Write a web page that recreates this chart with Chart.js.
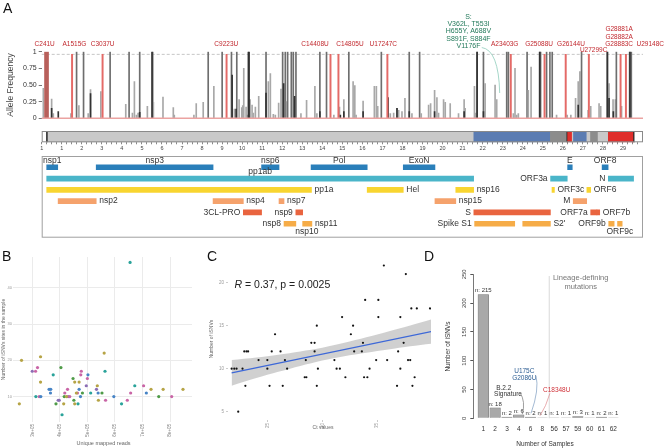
<!DOCTYPE html>
<html>
<head>
<meta charset="utf-8">
<script src="https://cdn.jsdelivr.net/npm/chart.js@4.4.1/dist/chart.umd.min.js"></script>
<style>
html, body { margin: 0; padding: 0; background: #fff; }
#wrap { position: relative; width: 666px; height: 448px; overflow: hidden; font-family: "Liberation Sans", Arial, sans-serif; }
canvas { position: absolute; }
.tag { position: absolute; font-size: 14px; line-height: 14px; color: #111; }
</style>
</head>
<body>
<div id="wrap">
  <canvas id="cA1" width="666" height="125" style="left:0;top:0"></canvas>
  <canvas id="cA2" width="666" height="30" style="left:0;top:125px"></canvas>
  <canvas id="cA3" width="666" height="95" style="left:0;top:150px"></canvas>
  <canvas id="cB" width="200" height="203" style="left:0;top:245px"></canvas>
  <canvas id="cC" width="240" height="203" style="left:195px;top:245px"></canvas>
  <canvas id="cD" width="241" height="203" style="left:425px;top:245px"></canvas>
  <div class="tag" style="left:3px;top:1px">A</div>
  <div class="tag" style="left:2px;top:249px">B</div>
  <div class="tag" style="left:207px;top:249px">C</div>
  <div class="tag" style="left:424px;top:249px">D</div>
</div>
<script>
/* --- panel A: allele frequencies ------------------------------------------ */
const afPos = [81, 496, 579, 1458, 1740, 1856, 2088, 2320, 2436, 2950, 3414, 4194, 4360, 4526, 4625, 4725, 4808, 4890,
    5272, 5537, 5571, 6051, 6566, 6615, 7594, 7710, 8058, 8307, 8589, 9003, 9468, 9617, 9733, 9849, 9982, 10031, 10081,
    10197, 10247, 10396, 10496, 10562, 10661, 10827, 11192, 11308, 11408, 11557, 11656, 11822, 11938, 12021, 12154,
    12220, 12270, 12453, 12552, 12685, 12934, 13215, 13630, 13730, 13879, 14210,
    14576, 14857, 15075, 15323, 15537, 15622, 15686, 16035, 16597, 16697, 16764, 16945, 17393, 17559, 17726, 17810,
    17975, 18123, 18338, 18472, 18855, 18936, 19303, 19403, 19602, 19718, 19800, 20050, 20133, 20381, 20796, 21076,
    21126, 21591, 21656, 21723, 22040, 22123, 22620, 22702, 23200, 23283, 23531, 23614, 23696, 23780, 24217, 24277,
    24416, 24847, 24890, 25189, 25355, 25471, 25687, 26218, 26400, 26636, 26768, 26851, 26934, 27262, 27392, 27808,
    27890, 28223, 28306, 28506, 28621, 28671, 28930, 29333, 29417];
const afFreq = [0.45, 0.29, 0.07, 0.07, 1, 0.19, 1, 0.07, 0.43, 0.40, 1, 0.21, 1, 0.08, 0.55, 0.05, 0.08, 1,
    0.18, 1, 0.24, 0.32, 0.16, 0.05, 0.05, 0.22, 0.24, 1, 0.48, 1, 1, 0.14, 1, 0.28, 0.16, 0.19, 0.75,
    0.17, 0.05, 0.28, 0.20, 0.08, 0.17, 0.33, 1, 0.55, 0.67, 0.06, 0.05, 0.23, 0.44, 1, 1,
    0.25, 1, 1, 1, 1, 0.07, 0.27, 0.48, 0.07, 1, 1,
    0.05, 0.17, 0.28, 1, 0.55, 0.49, 0.05, 0.26, 0.48, 0.48, 0.18, 1, 0.07, 0.08, 0.15, 0.12,
    0.10, 0.30, 1, 0.07, 1, 0.07, 0.20, 0.22, 0.42, 0.31, 0.08, 0.28, 0.24, 0.22, 0.07, 0.28,
    0.15, 0.48, 0.08, 1, 1, 0.52, 0.50, 0.28, 1, 1, 0.07, 0.75, 0.05, 0.07, 1, 0.42,
    0.77, 1, 1, 1, 1, 1, 0.05, 0.05, 0.05, 0.30, 0.55, 0.70, 1, 0.12, 0.18, 0.22,
    0.18, 1, 0.52, 0.28, 0.28, 1, 0.18, 1, 1];
const afDarkPos = [496, 827, 2436, 4890, 5504, 9501, 9700, 10313, 10346, 11192, 12071, 12619, 13879, 14900, 15075,
    16035, 17280, 17726, 18338, 19602, 21076, 21723, 22040, 24847, 26768, 28223, 28306, 28520, 29350];
const afDarkFreq = [0.15, 0.10, 0.37, 0.09, 1, 0.65, 0.14, 1, 1, 0.38, 0.52, 0.33, 0.10, 0.05, 0.10,
    0.10, 0.31, 0.15, 0.10, 0.10, 0.10, 1, 0.10, 1, 0.20, 1, 0.30, 0.10, 1];

const snpPos = [241, 1515, 3037, 9223, 14408, 14805, 17247, 23403, 25088, 26144, 27299, 28881, 29148];
const snpNames = [['C241U'], ['A1515G'], ['C3037U'], ['C9223U'], ['C14408U'], ['C14805U'], ['U17247C'],
    ['A23403G'], ['G25088U'], ['G26144U'], ['U27299C'], ['G28881A', 'G28882A', 'G28883C'], ['U29148C']];
const snpLabelAt = [149, 1632, 3040, 9209, 13637, 15378, 17044, 23099, 24815, 26407, 27537, 28810, 30362];
const snpTier = [0, 0, 0, 0, 0, 0, 0, 0, 0, 0, 1, 0, 0];
const spikeText = ['S:', 'V362L, T553I', 'H655Y, A688V', 'S891F, S884F', 'V1176F'];
const spikeLabelAt = 21292;
const freqTicks = [0, 0.25, 0.5, 0.75, 1];
const freqTickLabels = ['0', '0.25', '0.50', '0.75', '1'];

/* genome bar */
const genomeStart = [0, 250, 21560, 25380, 26200, 26240, 26470, 26530, 27200, 27380, 27760, 28270, 29530, 29590, 240];
const genomeEnd   = [250, 21560, 25380, 26200, 26240, 26470, 26530, 27200, 27380, 27760, 28270, 29530, 29590, 29903, 280];
const genomeKind  = [0, 1, 2, 3, 5, 4, 1, 2, 1, 3, 1, 4, 5, 0, 5];

/* gene annotation */
const geneNames = ['nsp1', 'nsp3', 'nsp6', 'Pol', 'ExoN', 'E', 'ORF8',
    'pp1ab', 'ORF3a', 'N',
    'pp1a', 'Hel', 'nsp16', 'ORF3c', 'ORF6',
    'nsp2', 'nsp4', 'nsp7', 'nsp15', 'M',
    '3CL-PRO', 'nsp9', 'S', 'ORF7a', 'ORF7b',
    'nsp8', 'nsp10', 'nsp11', 'Spike S1', "S2'", 'ORF9b', 'ORF9c'];
const geneStart = [250, 2720, 10970, 13440, 18040, 26240, 27960,
    250, 25390, 28270,
    250, 16240, 20660, 25460, 27200,
    820, 8550, 11840, 19620, 26520,
    10060, 12680, 21560, 27390, 27700,
    12090, 13020, 13440, 21600, 24000, 28290, 28730];
const geneEnd = [800, 8550, 11840, 16240, 19620, 26470, 28260,
    21550, 26220, 29530,
    13460, 18040, 21550, 25580, 27390,
    2720, 10060, 12090, 20660, 27190,
    10970, 13020, 25380, 27700, 27840,
    12680, 13440, 13480, 23600, 25380, 28560, 28960];
const geneRow = [0, 0, 0, 0, 0, 0, 0, 1, 1, 1, 2, 2, 2, 2, 2, 3, 3, 3, 3, 3, 4, 4, 4, 4, 4, 5, 5, 5, 5, 5, 5, 5];
const geneGroup = [0, 0, 0, 0, 0, 0, 0, 1, 1, 1, 2, 2, 2, 2, 2, 3, 3, 3, 3, 3, 4, 4, 4, 4, 4, 5, 5, 5, 5, 5, 5, 5];

/* --- panel B ---------------------------------------------------------------- */
const bReads = [253000, 261000, 300000, 312000, 319000, 330000, 330000, 313000, 325000, 331000, 361000, 367000, 366000,
    376000, 386000, 394000, 398000, 404000, 408000, 414000, 416000, 418000, 424000, 428000, 430000, 436000, 448000,
    451000, 454000, 454000, 460000, 464000, 466000, 470000, 470000, 475000, 476000, 478000, 482000, 496000, 500000,
    502000, 512000, 533000, 536000, 539000, 540000, 553000, 561000, 564000, 566000, 596000, 624000, 645000, 657000,
    655000, 672000, 704000, 714000, 731000, 759000, 775000, 806000, 847000];
const bSites = [8, 20, 17, 17, 18, 21, 14, 10, 10, 10, 12, 12, 11,
    16, 8, 9, 9, 18, 5, 8, 10, 11, 10, 12, 10, 10, 15,
    9, 14, 8, 11, 11, 8, 14, 12, 10, 16, 17, 11, 13, 15,
    16, 11, 12, 13, 11, 9, 11, 22, 17, 9, 10, 8, 9, 11,
    47, 13, 13, 11, 12, 10, 12, 10, 12];
const bGroup = [0, 0, 5, 4, 4, 0, 0, 2, 4, 3, 3, 3, 3,
    2, 1, 5, 5, 1, 2, 0, 1, 4, 0, 4, 5, 4, 1,
    1, 0, 0, 0, 4, 2, 0, 3, 3, 4, 4, 1, 5, 4,
    3, 2, 5, 0, 3, 0, 1, 0, 2, 4, 3, 2, 4, 4,
    2, 2, 4, 3, 0, 1, 0, 4, 0];
const bReadTicks = [300000, 400000, 500000, 600000, 700000, 800000];
const bSiteTicks = [10, 20, 30, 40];

/* --- panel C ---------------------------------------------------------------- */
const ctValues = [21.75, 21.99, 22.2, 22.74, 22.35, 23.0, 22.9, 23.1, 23.25, 24.2, 25.0, 25.0, 25.2, 25.4, 25.7, 26.2,
    26.4, 26.6, 26.8, 28.4, 28.55, 28.5, 29.0, 29.3, 29.3, 29.5, 29.5, 29.6, 31.1, 31.3, 31.6, 31.8, 32.1, 32.6,
    32.9, 32.8, 33.6, 33.7, 33.8, 34.1, 33.9, 34.3, 34.9, 35.1, 35.1, 35.6, 35.9, 36.8, 36.9, 37.1, 37.1, 37.4,
    37.6, 37.8, 38.0, 38.1, 38.6, 38.2, 38.4, 39.8];
const ctSnvs = [10, 10, 10, 10, 5, 8, 12, 12, 12, 11, 11, 10, 8, 12, 14, 12,
    8, 11, 10, 9, 9, 11, 13, 13, 12, 15, 8, 10, 11, 10, 10, 16, 9, 14,
    12, 15, 12, 13, 9, 9, 18, 10, 11, 18, 16, 22, 11, 8, 12, 10, 16, 13,
    21, 11, 11, 17, 17, 8, 9, 17];
const fitCt = [21.75, 39.89];
const fitSnv = [9.5, 14.31];
const bandCt = [21.75, 24, 26, 28, 30, 32, 34, 36, 38, 39.89];
const bandLow = [8.0, 8.9, 9.63, 10.31, 10.94, 11.44, 11.85, 12.23, 12.61, 12.91];
const bandHigh = [11.0, 11.3, 11.63, 12.01, 12.44, 13.0, 13.65, 14.33, 15.01, 15.71];
const ctTicks = [25, 30, 35];
const snvTicks = [5, 10, 15, 20];

/* --- panel D ---------------------------------------------------------------- */
const sampleLabels = ['1', '2', '3', '4', '6', '8', '56', '57', '59', '60', '61', '62'];
const isnvCount = [215, 18, 2, 6, 2, 1, 1, 1, 3, 1, 2, 1];
const countTicks = [0, 50, 100, 150, 200, 250];

/* --- helpers ------------------------------------------------------------- */
Chart.defaults.font.family = '"Liberation Sans", Arial, sans-serif';
Chart.defaults.color = '#333';
Chart.defaults.animation = false;
Chart.defaults.responsive = false;
Chart.defaults.devicePixelRatio = 1;
Chart.defaults.events = [];
Chart.defaults.plugins.legend.display = false;
Chart.defaults.plugins.tooltip.enabled = false;

const FONT = '"Liberation Sans", Arial, sans-serif';
const fixW = w => s => { s.width = w; };
const fixH = h => s => { s.height = h; };
const setTicks = list => s => { s.ticks = list.map(v => ({ value: v })); };

function text(ctx, s, x, y, size, color, align, rot) {
    ctx.save();
    ctx.font = size + 'px ' + FONT;
    ctx.fillStyle = color;
    ctx.textAlign = align || 'center';
    ctx.textBaseline = 'middle';
    ctx.translate(x, y);
    if (rot) ctx.rotate(rot);
    ctx.fillText(s, 0, 0);
    ctx.restore();
}

/* --- A1: allele frequency ------------------------------------------------ */
new Chart(document.getElementById('cA1'), {
    type: 'bar',
    data: {
        datasets: [
            { data: snpPos.slice(1).map(p => ({ x: p, y: 0.96 })), backgroundColor: '#e46a67', barThickness: 1.3 },
            { data: [{ x: snpPos[0], y: 1 }], backgroundColor: '#b8605b', barThickness: 4 },
            { data: afDarkPos.map((p, i) => ({ x: p, y: afDarkFreq[i] })), backgroundColor: '#333333', barThickness: 1 },
            {
                data: afPos.map((p, i) => ({ x: p, y: afFreq[i] })),
                backgroundColor: c => (c.raw && c.raw.y > 0.99 ? '#6e6e6e' : '#a8a8a8'),
                barThickness: 1
            }
        ]
    },
    options: {
        layout: { padding: { left: 0, right: 23, top: 51.7, bottom: 6.7 } },
        datasets: { bar: { grouped: false } },
        scales: {
            x: { type: 'linear', min: 0, max: 30000, offset: false, display: false },
            y: {
                min: 0, max: 1,
                afterFit: fixW(41.7),
                afterBuildTicks: setTicks(freqTicks),
                ticks: { callback: (v, i) => freqTickLabels[i], font: { size: 7 }, color: '#333', padding: 2 },
                grid: { drawOnChartArea: false, tickLength: 3, color: '#777' },
                border: { display: false }
            }
        }
    },
    plugins: [{
        id: 'aDeco',
        beforeDatasetsDraw(ch) {
            const { ctx, chartArea: a, scales: { y } } = ch;
            const yd = y.getPixelForValue(0.96);
            ctx.save();
            ctx.strokeStyle = '#b8b8b8';
            ctx.lineWidth = 0.8;
            ctx.setLineDash([3, 2]);
            ctx.beginPath(); ctx.moveTo(a.left, yd); ctx.lineTo(a.right, yd); ctx.stroke();
            ctx.restore();
        },
        afterDatasetsDraw(ch) {
            const { ctx, chartArea: a, scales: { x, y } } = ch;
            const y0 = y.getPixelForValue(0);
            ctx.save();
            ctx.strokeStyle = '#eba3a1';
            ctx.lineWidth = 1.5;
            ctx.beginPath(); ctx.moveTo(a.left, y0); ctx.lineTo(a.right, y0); ctx.stroke();
            ctx.restore();

            const top = y.getPixelForValue(1);
            snpNames.forEach((lines, i) => {
                const cx = x.getPixelForValue(snpLabelAt[i]);
                const base = top - 7.4 + snpTier[i] * 6.4;
                lines.forEach((t, k) => text(ctx, t, cx, base - (lines.length - 1 - k) * 7.5, 6.5, '#c1272d'));
            });

            const sx = x.getPixelForValue(spikeLabelAt);
            spikeText.forEach((t, k) => text(ctx, t, sx, top - 35 + k * 7.4, 7, '#22795a'));
            ctx.save();
            ctx.strokeStyle = '#8fcdbb';
            ctx.lineWidth = 0.8;
            ctx.beginPath();
            ctx.moveTo(x.getPixelForValue(21955), y.getPixelForValue(1.063));
            ctx.quadraticCurveTo(x.getPixelForValue(22800), y.getPixelForValue(1.026),
                x.getPixelForValue(22850), y.getPixelForValue(0.38));
            ctx.stroke();
            ctx.restore();

            text(ctx, 'Allele Frequency', 11, (a.top + a.bottom) / 2, 8.5, '#444', 'center', -Math.PI / 2);
        }
    }]
});

/* --- A2: genome bar ------------------------------------------------------ */
const genomePalette = ['#ffffff', '#c9c9c9', '#5b7cb2', '#8c8c8c', '#df2f2c', '#222222'];
const kbTicks = [];
for (let v = 0; v <= 29750; v += 250) kbTicks.push(v);

new Chart(document.getElementById('cA2'), {
    type: 'bar',
    data: {
        labels: ['g'],
        datasets: [{
            data: genomeStart.map((s, i) => ({ x: [s, genomeEnd[i]], y: 'g' })),
            backgroundColor: genomeKind.map(k => genomePalette[k]),
            barPercentage: 1, categoryPercentage: 1
        }]
    },
    options: {
        indexAxis: 'y',
        layout: { padding: { left: 41.7, right: 23, top: 6, bottom: 0 } },
        scales: {
            y: { type: 'category', display: false },
            x: {
                type: 'linear', min: 0, max: 30000, offset: false,
                afterFit: fixH(12.7),
                afterBuildTicks: setTicks(kbTicks),
                ticks: {
                    autoSkip: false, maxRotation: 0, padding: 1, font: { size: 5.5 }, color: '#444',
                    callback: v => (v % 1000 === 0 ? (v === 0 ? '1' : String(v / 1000)) : '')
                },
                grid: { drawOnChartArea: false, tickLength: 2, color: '#888' },
                border: { display: false }
            }
        }
    },
    plugins: [{
        id: 'gOutline',
        afterDatasetsDraw(ch) {
            const { ctx, chartArea: a } = ch;
            ctx.save();
            ctx.strokeStyle = '#8a8a8a';
            ctx.lineWidth = 1;
            ctx.strokeRect(a.left + 0.5, a.top + 0.5, a.width - 1, a.height - 1);
            ctx.restore();
        }
    }]
});

/* --- A3: gene annotation ------------------------------------------------- */
const genePalette = ['#2a7fba', '#4ab5c9', '#f8d530', '#f5a26c', '#e9643f', '#f6ac47'];
const labelSide = {
    nsp1: 'above', nsp3: 'above', nsp6: 'above', Pol: 'above', ExoN: 'above', E: 'above', ORF8: 'above',
    pp1ab: 'above', ORF3a: 'left', N: 'left',
    pp1a: 'right', Hel: 'right', nsp16: 'right', ORF3c: 'right', ORF6: 'right',
    nsp2: 'right', nsp4: 'right', nsp7: 'right', nsp15: 'right', M: 'left',
    '3CL-PRO': 'left', nsp9: 'left', S: 'left', ORF7a: 'left', ORF7b: 'right',
    nsp8: 'left', nsp10: 'below', nsp11: 'right', 'Spike S1': 'left', "S2'": 'right', ORF9b: 'left', ORF9c: 'below'
};

new Chart(document.getElementById('cA3'), {
    type: 'bar',
    data: {
        datasets: [{
            data: geneNames.map((n, i) => ({ x: [geneStart[i], geneEnd[i]], y: geneRow[i] })),
            backgroundColor: geneGroup.map(g => genePalette[g]),
            barThickness: 5
        }]
    },
    options: {
        indexAxis: 'y',
        layout: { padding: { left: 41.7, right: 23, top: 6, bottom: 7.3 } },
        datasets: { bar: { grouped: false } },
        scales: {
            y: { type: 'linear', min: -1.0, max: 6.24, reverse: true, display: false, offset: false },
            x: { type: 'linear', min: 0, max: 30000, display: false }
        }
    },
    plugins: [{
        id: 'geneLabels',
        afterDatasetsDraw(ch) {
            const { ctx, chartArea: a, scales: { x, y } } = ch;
            ctx.save();
            ctx.strokeStyle = '#a0a0a0';
            ctx.lineWidth = 1;
            ctx.strokeRect(a.left + 0.5, a.top + 0.5, a.width - 1, a.height - 1);
            ctx.restore();
            geneNames.forEach((n, i) => {
                const x0 = x.getPixelForValue(geneStart[i]);
                const x1 = x.getPixelForValue(geneEnd[i]);
                const yc = y.getPixelForValue(geneRow[i]);
                const side = labelSide[n];
                if (side === 'above') text(ctx, n, (x0 + x1) / 2, yc - 6.5, 8.5, '#333');
                else if (side === 'below') text(ctx, n, (x0 + x1) / 2, yc + 7.5, 8.5, '#333');
                else if (side === 'left') text(ctx, n, x0 - 3, yc, 8.5, '#333', 'right');
                else text(ctx, n, x1 + 3, yc, 8.5, '#333', 'left');
            });
        }
    }]
});

/* --- B: scatter of reads vs iSNV sites ---------------------------------- */
const bPalette = ['#b6a446', '#4f9b48', '#2aa39a', '#4784c6', '#c965a6', '#8b6db4'];

new Chart(document.getElementById('cB'), {
    type: 'scatter',
    data: {
        datasets: bPalette.map((col, g) => ({
            data: bReads.map((r, i) => ({ x: r, y: bSites[i], g: bGroup[i] })).filter(p => p.g === g),
            backgroundColor: col, pointRadius: 1.6, pointBorderWidth: 0
        }))
    },
    options: {
        layout: { padding: { left: 0, right: 8, top: 12, bottom: 0 } },
        scales: {
            x: {
                min: 237300, max: 879700,
                afterFit: fixH(26),
                afterBuildTicks: setTicks(bReadTicks),
                ticks: { minRotation: 90, maxRotation: 90, font: { size: 4.5 }, color: '#777', padding: 2,
                    callback: v => (v / 100000) + 'e+05' },
                grid: { color: '#ebebeb', drawTicks: false },
                border: { display: false }
            },
            y: {
                min: 3.0, max: 48.5,
                afterFit: fixW(15),
                afterBuildTicks: setTicks(bSiteTicks),
                ticks: { font: { size: 4 }, color: '#999', padding: 1 },
                grid: { color: '#ebebeb', tickLength: 2 },
                border: { display: false }
            }
        }
    },
    plugins: [{
        id: 'bTitles',
        afterDraw(ch) {
            const { ctx, chartArea: a } = ch;
            text(ctx, 'Unique mapped reads', (a.left + a.right) / 2, 198.5, 5.5, '#666');
            text(ctx, 'Number of iSNVs sites in the sample', 3.5, (a.top + a.bottom) / 2, 5, '#666', 'center', -Math.PI / 2);
        }
    }]
});

/* --- C: Ct values vs iSNVs ---------------------------------------------- */
new Chart(document.getElementById('cC'), {
    type: 'scatter',
    data: {
        datasets: [
            { data: ctValues.map((c, i) => ({ x: c, y: ctSnvs[i] })), backgroundColor: '#111', pointRadius: 1.1, pointBorderWidth: 0 },
            { type: 'line', data: fitCt.map((c, i) => ({ x: c, y: fitSnv[i] })), borderColor: '#3d68d8', borderWidth: 1.3, pointRadius: 0 },
            { type: 'line', data: bandCt.map((c, i) => ({ x: c, y: bandLow[i] })), borderWidth: 0, pointRadius: 0, tension: 0.3 },
            { type: 'line', data: bandCt.map((c, i) => ({ x: c, y: bandHigh[i] })), borderWidth: 0, pointRadius: 0, tension: 0.3,
              fill: '-1', backgroundColor: 'rgba(150,150,150,0.45)' }
        ]
    },
    options: {
        layout: { padding: { left: 0, right: 2, top: 13, bottom: 0 } },
        scales: {
            x: {
                min: 21.42, max: 39.89,
                afterFit: fixH(28),
                afterBuildTicks: setTicks(ctTicks),
                ticks: { minRotation: 90, maxRotation: 90, font: { size: 4.5 }, color: '#999', padding: 1 },
                grid: { drawOnChartArea: false, tickLength: 2, color: '#ccc' },
                border: { display: false }
            },
            y: {
                min: 4.03, max: 22.87,
                afterFit: fixW(33),
                afterBuildTicks: setTicks(snvTicks),
                ticks: { font: { size: 4.5 }, color: '#999', padding: 2 },
                grid: { drawOnChartArea: false, tickLength: 2, color: '#ccc' },
                border: { display: false }
            }
        }
    },
    plugins: [{
        id: 'cTitles',
        afterDraw(ch) {
            const { ctx, chartArea: a } = ch;
            text(ctx, 'Ct values', 128, 183, 5, '#666');
            text(ctx, 'Number of iSNVs', 16.7, 94, 5, '#666', 'center', -Math.PI / 2);
            ctx.save();
            ctx.fillStyle = '#222';
            ctx.textBaseline = 'middle';
            ctx.font = 'italic 10.5px ' + FONT;
            const rx = a.left + 6.5, ry = 40;
            ctx.fillText('R', rx, ry);
            const w = ctx.measureText('R').width;
            ctx.font = '10.5px ' + FONT;
            ctx.fillText(' = 0.37, p = 0.0025', rx + w, ry);
            ctx.restore();
        }
    }]
});

/* --- D: iSNVs per number of samples ------------------------------------- */
new Chart(document.getElementById('cD'), {
    type: 'bar',
    data: {
        datasets: [{
            data: isnvCount.map((v, i) => ({ x: i, y: v })),
            backgroundColor: '#a9a9a9', borderColor: '#707070', borderWidth: 0.6, barThickness: 10.6
        }]
    },
    options: {
        layout: { padding: { left: 0, right: 46.8, top: 29.3, bottom: 0 } },
        scales: {
            x: {
                type: 'linear', min: -0.846, max: 11.5, offset: false,
                afterFit: fixH(29.7),
                afterBuildTicks: setTicks(sampleLabels.map((s, i) => i)),
                ticks: { autoSkip: false, maxRotation: 0, font: { size: 6.5 }, color: '#333', padding: 7,
                    callback: v => sampleLabels[v] },
                grid: { display: false, drawTicks: false },
                border: { display: false }
            },
            y: {
                min: 0, max: 250,
                afterFit: fixW(48.3),
                afterBuildTicks: setTicks(countTicks),
                ticks: { display: false },
                grid: { drawOnChartArea: false, tickLength: 3, color: '#555' },
                border: { display: true, color: '#555', width: 0.8 }
            }
        }
    },
    plugins: [{
        id: 'dDeco',
        afterDatasetsDraw(ch) {
            const { ctx, chartArea: a, scales: { x, y } } = ch;
            countTicks.forEach(v => text(ctx, String(v), a.left - 9, y.getPixelForValue(v), 6, '#444', 'center', -Math.PI / 2));
            text(ctx, 'Number of iSNVs', 23.3, 101.5, 6.5, '#333', 'center', -Math.PI / 2);
            text(ctx, 'Number of Samples', 120, 199, 6.5, '#333');

            isnvCount.forEach((v, i) => text(ctx, 'n: ' + v, x.getPixelForValue(i), y.getPixelForValue(v) - 4, 6, '#333'));

            ctx.save();
            ctx.strokeStyle = '#cfcfcf';
            ctx.lineWidth = 0.8;
            const lx = x.getPixelForValue(5.58);
            ctx.beginPath(); ctx.moveTo(lx, y.getPixelForValue(0)); ctx.lineTo(lx, y.getPixelForValue(247)); ctx.stroke();
            ctx.restore();
            text(ctx, 'Lineage-defining', x.getPixelForValue(8.24), y.getPixelForValue(243), 7.5, '#777');
            text(ctx, 'mutations', x.getPixelForValue(8.24), y.getPixelForValue(227.6), 7.5, '#777');

            text(ctx, 'B.2.2', x.getPixelForValue(1.73), y.getPixelForValue(53.1), 6.5, '#333');
            text(ctx, 'Signature', x.getPixelForValue(2.09), y.getPixelForValue(41.7), 6.5, '#333');
            text(ctx, 'U175C', x.getPixelForValue(3.47), y.getPixelForValue(81), 6.5, '#2c5d93');
            text(ctx, 'G2086U', x.getPixelForValue(3.47), y.getPixelForValue(69.4), 6.5, '#2c5d93');
            text(ctx, 'C18348U', x.getPixelForValue(6.21), y.getPixelForValue(48), 6.5, '#d0333a');

            const curve = (col, p0, c, p1) => {
                ctx.save();
                ctx.strokeStyle = col;
                ctx.lineWidth = 0.7;
                ctx.beginPath();
                ctx.moveTo(x.getPixelForValue(p0[0]), y.getPixelForValue(p0[1]));
                ctx.quadraticCurveTo(x.getPixelForValue(c[0]), y.getPixelForValue(c[1]),
                    x.getPixelForValue(p1[0]), y.getPixelForValue(p1[1]));
                ctx.stroke();
                ctx.restore();
            };
            curve('#777', [3.1, 45], [3.6, 29], [3.3, 7]);
            curve('#7d9cc0', [4.46, 74], [4.75, 50], [4.04, 8.7]);
            curve('#e08a8e', [5.64, 43.4], [5.3, 20], [4.8, 4.5]);
        }
    }]
});
</script>
</body>
</html>
